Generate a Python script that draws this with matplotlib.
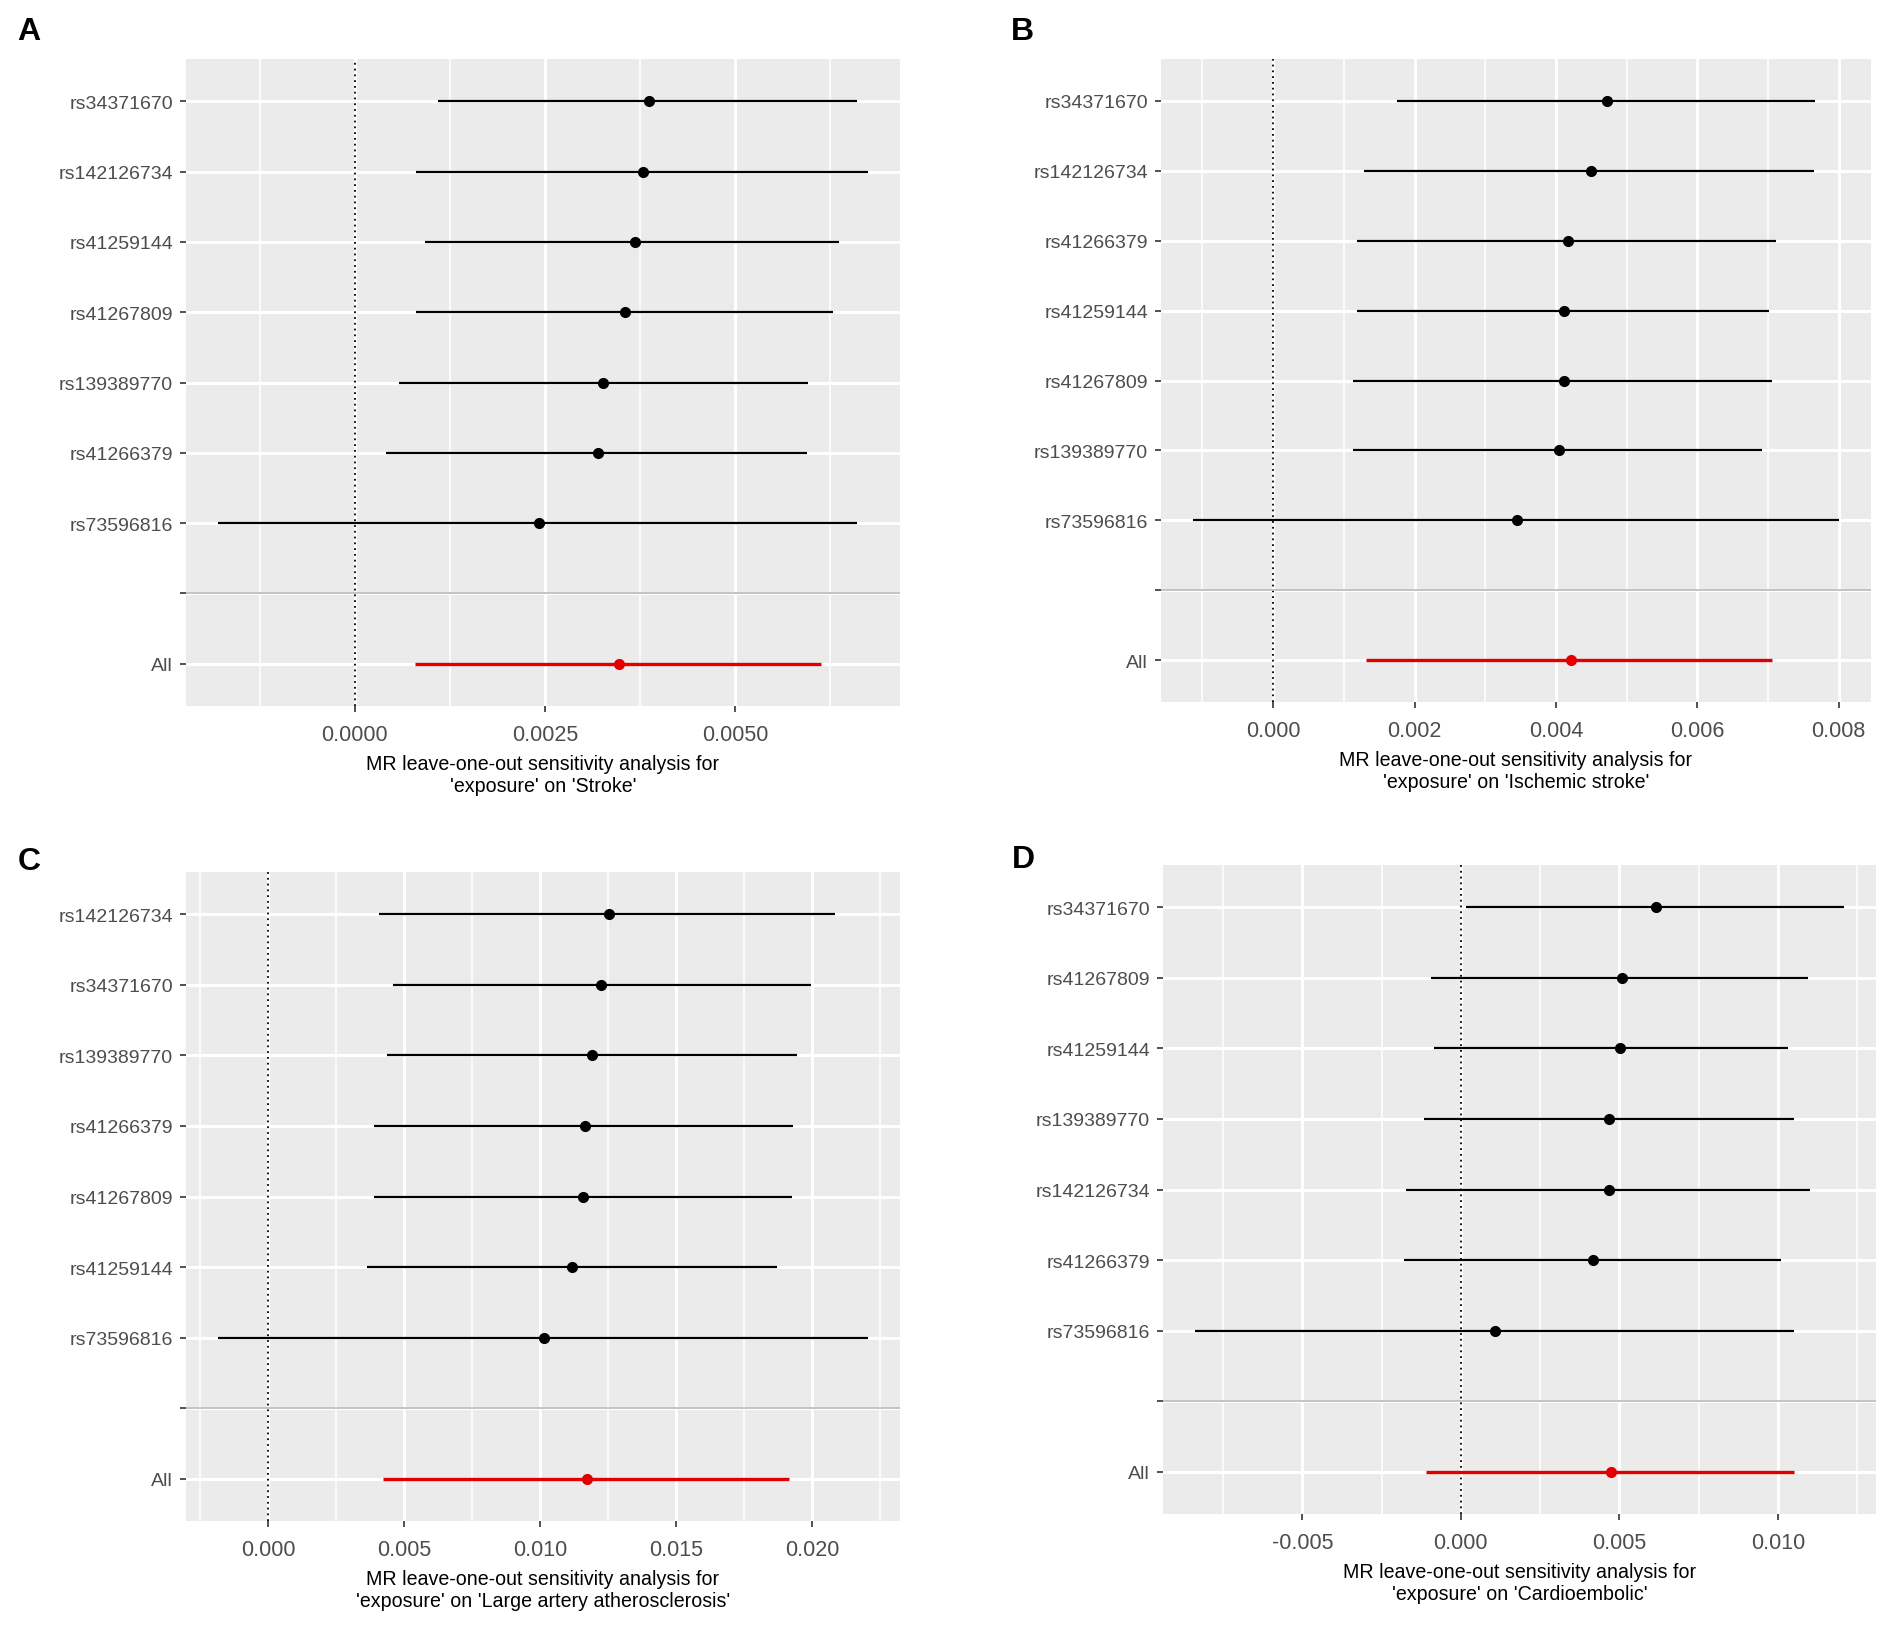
import matplotlib
matplotlib.use("Agg")
import matplotlib.pyplot as plt
from matplotlib.ticker import MultipleLocator, FormatStrFormatter

plt.rcParams['font.family'] = ['Liberation Sans', 'DejaVu Sans']
plt.rcParams['axes.unicode_minus'] = False

# ---------------- data ----------------
# Panel A : Stroke
snps_A = ["rs34371670", "rs142126734", "rs41259144", "rs41267809",
          "rs139389770", "rs41266379", "rs73596816"]
b_A  = [0.00387, 0.00379, 0.00368, 0.00355, 0.00327, 0.00320, 0.00242]
lo_A = [0.00109, 0.00081, 0.00093, 0.00081, 0.00058, 0.00041, -0.00179]
up_A = [0.00660, 0.00674, 0.00637, 0.00629, 0.00596, 0.00594, 0.00660]
all_A = [0.00347, 0.00079, 0.00613]          # b, lo, up
outcome_A = "Stroke"

# Panel B : Ischemic stroke
snps_B = ["rs34371670", "rs142126734", "rs41266379", "rs41259144",
          "rs41267809", "rs139389770", "rs73596816"]
b_B  = [0.00472, 0.00449, 0.00417, 0.00412, 0.00412, 0.00404, 0.00345]
lo_B = [0.00175, 0.00129, 0.00119, 0.00119, 0.00113, 0.00113, -0.00113]
up_B = [0.00767, 0.00765, 0.00711, 0.00702, 0.00705, 0.00692, 0.00800]
all_B = [0.00422, 0.00131, 0.00706]
outcome_B = "Ischemic stroke"

# Panel C : Large artery atherosclerosis
snps_C = ["rs142126734", "rs34371670", "rs139389770", "rs41266379",
          "rs41267809", "rs41259144", "rs73596816"]
b_C  = [0.01253, 0.01226, 0.01193, 0.01166, 0.01159, 0.01119, 0.01014]
lo_C = [0.00408, 0.00459, 0.00437, 0.00388, 0.00388, 0.00363, -0.00183]
up_C = [0.02085, 0.01998, 0.01944, 0.01931, 0.01926, 0.01873, 0.02205]
all_C = [0.01173, 0.00424, 0.01917]
outcome_C = "Large artery atherosclerosis"

# Panel D : Cardioembolic
snps_D = ["rs34371670", "rs41267809", "rs41259144", "rs139389770",
          "rs142126734", "rs41266379", "rs73596816"]
b_D  = [0.00615, 0.00508, 0.00502, 0.00467, 0.00467, 0.00416, 0.00109]
lo_D = [0.00015, -0.00094, -0.00086, -0.00115, -0.00172, -0.00178, -0.00837]
up_D = [0.01207, 0.01094, 0.01031, 0.01050, 0.01100, 0.01010, 0.01050]
all_D = [0.00473, -0.00109, 0.01050]
outcome_D = "Cardioembolic"

panel_letters = ["A", "B", "C", "D"]

# ---------------- style ----------------
W, H = 1902, 1631
fig = plt.figure(figsize=(W / 100, H / 100), dpi=100)

BG = "#EBEBEB"
TXT = "#4D4D4D"
TICK = "#333333"

def make_panel(rect, snps, b, lo, up, allv, outcome, step, fmt):
    ax = fig.add_axes(rect)
    ax.set_facecolor(BG)
    for s in ax.spines.values():
        s.set_visible(False)
    n = len(snps)
    # y positions: top SNP highest, then blank row, then All at 1
    ys = [n + 2 - i for i in range(n)]
    y_blank = 2
    y_all = 1
    ax.set_ylim(0.4, n + 2 + 0.6)
    data_lo = min(min(lo), allv[1])
    data_hi = max(max(up), allv[2])
    rng = data_hi - data_lo
    ax.set_xlim(data_lo - 0.05 * rng, data_hi + 0.05 * rng)
    ax.xaxis.set_major_locator(MultipleLocator(step))
    ax.xaxis.set_minor_locator(MultipleLocator(step / 2))
    ax.xaxis.set_major_formatter(FormatStrFormatter(fmt))
    ax.set_yticks([y_all, y_blank] + ys)
    ax.set_yticklabels(["All", ""] + snps)
    ax.grid(which="major", axis="both", color="white", linewidth=2.2, zorder=0)
    ax.grid(which="minor", axis="x", color="white", linewidth=1.1, zorder=0)
    ax.set_axisbelow(True)
    ax.tick_params(axis="x", which="major", length=4.3, width=1.2, color=TICK,
                   labelsize=15.5, labelcolor=TXT, pad=9)
    ax.tick_params(axis="x", which="minor", length=0)
    ax.tick_params(axis="y", which="major", length=4.3, width=1.2, color=TICK,
                   labelsize=14, labelcolor=TXT, pad=5)
    ax.axvline(0, color="black", linestyle=(0, (1, 2.2)), linewidth=1.3, zorder=2)
    ax.axhline(y_blank, color="#BEBEBE", linewidth=1.3, zorder=2)
    ax.hlines(ys, lo, up, color="black", linewidth=1.6, zorder=3)
    ax.plot(b, ys, "o", color="black", markersize=7, zorder=4)
    ax.hlines([y_all], [allv[1]], [allv[2]], color="#E00000", linewidth=2.4, zorder=3)
    ax.plot([allv[0]], [y_all], "o", color="#E00000", markersize=7, zorder=4)
    ax.set_xlabel("MR leave-one-out sensitivity analysis for\n'exposure' on '%s'" % outcome,
                  fontsize=14.1, color="black", labelpad=6.5, linespacing=1.2)
    return ax

def frac(l, t, r, bt):
    return [l / W, 1 - bt / H, (r - l) / W, (bt - t) / H]

make_panel(frac(186, 60, 900, 707), snps_A, b_A, lo_A, up_A, all_A, outcome_A, 0.0025, "%.4f")
make_panel(frac(1161, 60, 1871, 703), snps_B, b_B, lo_B, up_B, all_B, outcome_B, 0.002, "%.3f")
make_panel(frac(186, 873, 900, 1522), snps_C, b_C, lo_C, up_C, all_C, outcome_C, 0.005, "%.3f")
make_panel(frac(1163, 866, 1876, 1515), snps_D, b_D, lo_D, up_D, all_D, outcome_D, 0.005, "%.3f")

letter_pos = [(17, 17), (1011, 17), (18, 847), (1012, 845)]
for L, (x, y) in zip(panel_letters, letter_pos):
    fig.text(x / W, 1 - y / H, L, fontsize=23, fontweight="bold", color="black",
             ha="left", va="top")

fig.savefig("out.png", dpi=100, facecolor="white")
